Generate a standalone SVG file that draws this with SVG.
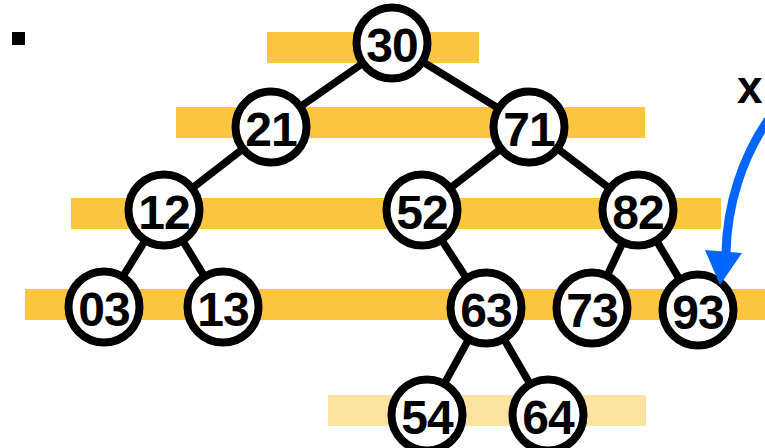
<svg xmlns="http://www.w3.org/2000/svg" width="765" height="448" viewBox="0 0 765 448">
<style>
.bar{fill:#FBC540}
.bar2{fill:#FDE3A1}
.edge{stroke:#000;stroke-width:7.5;fill:none}
.node circle{fill:#fff;stroke:#000;stroke-width:8}
.node text{font-family:"Liberation Sans",Arial,sans-serif;font-weight:bold;font-size:48px;text-anchor:middle;fill:#000;letter-spacing:-1px}
</style>
<rect width="765" height="448" fill="#fff"/>
<rect x="12" y="32" width="13" height="13" fill="#000"/>
<g id="bars">
<rect class="bar" x="267" y="32" width="212" height="31"/>
<rect class="bar" x="176" y="107" width="469" height="31"/>
<rect class="bar" x="71" y="198" width="650" height="31"/>
<rect class="bar" x="25" y="289" width="740" height="31"/>
<rect class="bar2" x="328" y="395" width="318" height="31"/>
</g>
<g id="connectors">
<line class="edge" x1="392" y1="43" x2="271" y2="127"/>
<line class="edge" x1="392" y1="43" x2="529" y2="127"/>
<line class="edge" x1="271" y1="127" x2="164" y2="210"/>
<line class="edge" x1="529" y1="127" x2="422" y2="210"/>
<line class="edge" x1="529" y1="127" x2="638" y2="210"/>
<line class="edge" x1="164" y1="210" x2="104" y2="307"/>
<line class="edge" x1="164" y1="210" x2="223" y2="307"/>
<line class="edge" x1="422" y1="210" x2="486" y2="308"/>
<line class="edge" x1="638" y1="210" x2="592" y2="308"/>
<line class="edge" x1="638" y1="210" x2="698" y2="310"/>
<line class="edge" x1="486" y1="308" x2="427" y2="415"/>
<line class="edge" x1="486" y1="308" x2="548" y2="415"/>
</g>
<g id="n30" class="node"><circle cx="392" cy="43" r="35.5"/><text x="392" y="62">30</text></g>
<g id="n21" class="node"><circle cx="271" cy="127" r="35.5"/><text x="271" y="146">21</text></g>
<g id="n71" class="node"><circle cx="529" cy="127" r="35.5"/><text x="529" y="146">71</text></g>
<g id="n12" class="node"><circle cx="164" cy="210" r="35.5"/><text x="164" y="229">12</text></g>
<g id="n52" class="node"><circle cx="422" cy="210" r="35.5"/><text x="422" y="229">52</text></g>
<g id="n82" class="node"><circle cx="638" cy="210" r="35.5"/><text x="638" y="229">82</text></g>
<g id="n03" class="node"><circle cx="104" cy="307" r="35.5"/><text x="104" y="326">03</text></g>
<g id="n13" class="node"><circle cx="223" cy="307" r="35.5"/><text x="223" y="326">13</text></g>
<g id="n63" class="node"><circle cx="486" cy="308" r="35.5"/><text x="486" y="327">63</text></g>
<g id="n73" class="node"><circle cx="592" cy="308" r="35.5"/><text x="592" y="327">73</text></g>
<g id="n93" class="node"><circle cx="698" cy="310" r="35.5"/><text x="698" y="329">93</text></g>
<g id="n54" class="node"><circle cx="427" cy="415" r="35.5"/><text x="427" y="434">54</text></g>
<g id="n64" class="node"><circle cx="548" cy="415" r="35.5"/><text x="548" y="434">64</text></g>
<g id="pointer">
<text x="737" y="103" font-family="Liberation Sans,Arial,sans-serif" font-weight="bold" font-size="46">x</text>
<path d="M 768 120 C 742 158 727 205 726 253" stroke="#0066FF" stroke-width="9" fill="none"/>
<polygon points="705,250 742,253 720,285" fill="#0066FF"/>
</g>
</svg>
